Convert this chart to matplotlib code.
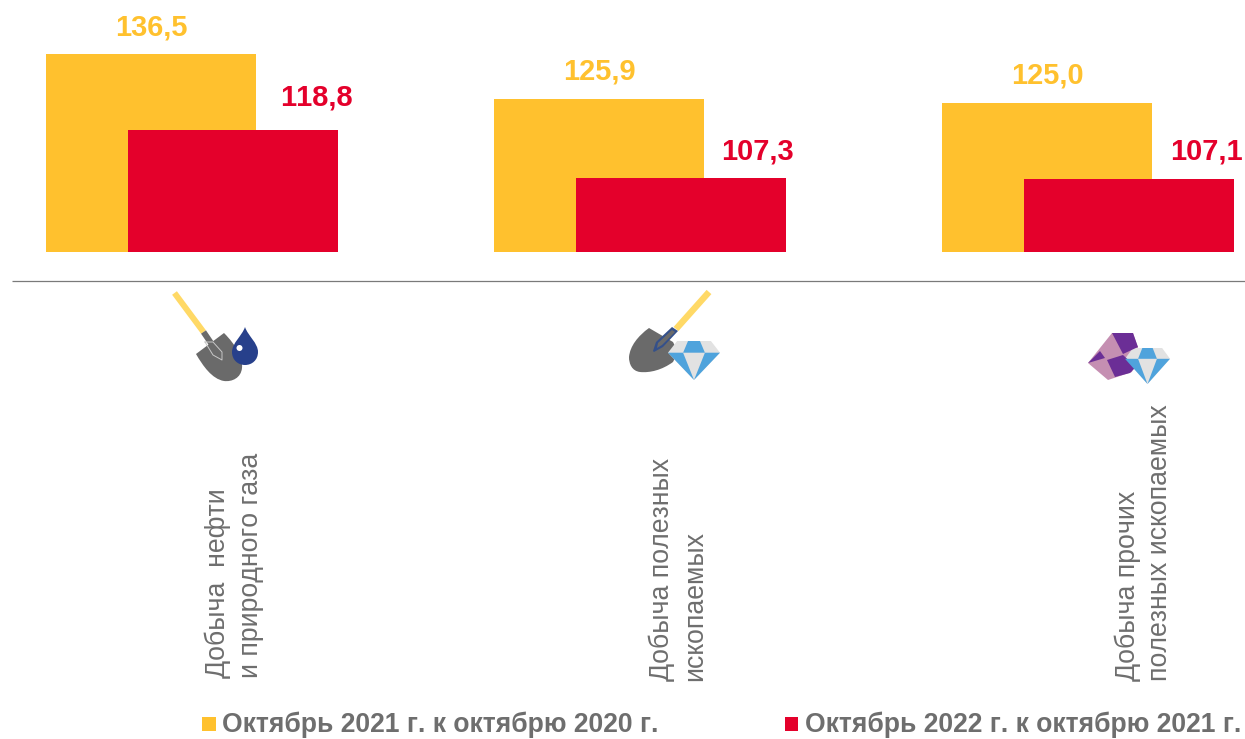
import matplotlib
matplotlib.use("Agg")
import matplotlib.pyplot as plt
from matplotlib.patches import Polygon, Circle, PathPatch
from matplotlib.path import Path

categories = ["Добыча  нефти\nи природного газа", "Добыча полезных\nископаемых", "Добыча прочих\nполезных ископаемых"]
series_2021 = [136.5, 125.9, 125.0]
series_2022 = [118.8, 107.3, 107.1]
labels_2021 = ["136,5", "125,9", "125,0"]
labels_2022 = ["118,8", "107,3", "107,1"]
legend_names = ["Октябрь 2021 г. к октябрю 2020 г.", "Октябрь 2022 г. к октябрю 2021 г."]

W, H = 1245, 739
YEL, RED, GREY = "#FFC12E", "#E4002B", "#6E6E6E"
plt.rcParams["font.family"] = ["Liberation Sans", "DejaVu Sans"]
plt.rcParams["text.kerning_factor"] = 6
fig = plt.figure(figsize=(W / 100, H / 100), dpi=100, facecolor="white")

ax = fig.add_axes([0, 1 - 252 / H, 1, 252 / H])
ax.set_xlim(-192 / 448, (W - 192) / 448)
ax.set_ylim(90, 90 + 252 / 4.25)
ax.axis("off")
xs = range(3)
bw, off = 210 / 448, 41 / 448
ax.bar([x - off for x in xs], series_2021, bw, color=YEL, zorder=2)
ax.bar([x + off for x in xs], series_2022, bw, color=RED, zorder=3)

# overlay in pixel coordinates for value labels, rule, icons, rotated labels and legend
ov = fig.add_axes([0, 0, 1, 1], facecolor="none")
ov.set_xlim(0, W); ov.set_ylim(H, 0); ov.axis("off")
for s, px, py in zip(labels_2021, (151.5, 599.5, 1047.5), (28, 72, 76)):
    ov.text(px, py, s, color=YEL, ha="center", va="center", fontsize=20.9, fontweight="bold")
for s, px, py in zip(labels_2022, (316.5, 757, 1206), (97, 151, 151)):
    ov.text(px, py, s, color=RED, ha="center", va="center", fontsize=20.9, fontweight="bold")
ov.plot([12, W], [281, 281], color="#7A7A7A", lw=0.9, solid_capstyle="butt")

def poly(pts, c, z=5):
    ov.add_patch(Polygon(pts, closed=True, fc=c, ec="none", zorder=z))

def curve(start, segs, c, z=5):
    verts, codes = [start], [Path.MOVETO]
    for seg in segs:
        verts += seg
        codes += [Path.LINETO] if len(seg) == 1 else [Path.CURVE4] * 3
    verts.append(start); codes.append(Path.CLOSEPOLY)
    ov.add_patch(PathPatch(Path(verts, codes), fc=c, ec="none", zorder=z))

def diamond(cx, top, w, h):
    t = top; g = t + h * 0.3
    poly([(cx - w * .65, t), (cx + w * .65, t), (cx + w, g), (cx, t + h), (cx - w, g)], "#E2E2E2")
    poly([(cx - w * .23, t), (cx + w * .23, t), (cx + w * .42, g), (cx - w * .42, g)], "#4FA3DC", 6)
    poly([(cx - w, g), (cx - w * .42, g), (cx, t + h)], "#4FA3DC", 6)
    poly([(cx + w, g), (cx + w * .42, g), (cx, t + h)], "#4FA3DC", 6)

# icon 1: shovel and droplet
ov.plot([174.5, 203.5], [293, 332], color="#FFD966", lw=4.3, solid_capstyle="butt", zorder=5)
ov.plot([203.5, 213], [332, 346], color="#6A6A6A", lw=4.3, solid_capstyle="butt", zorder=5)
curve((196, 354), [[(224, 333)], [(236, 345), (243, 358), (242, 368)], [(241, 378), (232, 382), (224, 381)],
                   [(212, 379), (203, 366), (196, 354)]], "#6A6A6A")
ov.plot([205, 213, 222, 222, 213, 205], [342, 342, 352, 360, 355, 342], color="#C8C8C8", lw=0.7, zorder=6)
curve((245, 327), [[(248, 336), (258, 343), (258, 352)], [(258, 360), (252, 365), (245, 365)],
                   [(238, 365), (232, 360), (232, 352)], [(232, 343), (242, 336), (245, 327)]], "#27408B")
ov.add_patch(Circle((239.5, 348), 3, fc="white", ec="none", zorder=6))

# icon 2: shovel and diamond
ov.plot([709, 676], [292, 329], color="#FFD966", lw=4.6, solid_capstyle="butt", zorder=5)
curve((649, 328), [[(673, 342)], [(678, 352)], [(673, 362)], [(662, 370), (650, 373), (640, 372)],
                   [(632, 371), (629, 364), (629, 357)], [(630, 346), (638, 336), (649, 328)]], "#6A6A6A")
poly([(672, 327), (678, 331), (663, 347), (654, 352), (653, 351), (656, 342)], "#34508A", 6)
poly([(672, 330), (675, 332), (662, 345), (657, 348), (658, 343)], "#6A6A6A", 7)
diamond(694, 341, 26, 39)

# icon 3: rock and diamond
poly([(1112, 333), (1133, 333), (1138, 348), (1132, 372), (1108, 380), (1088, 363)], "#C58FB2")
poly([(1112, 333), (1133, 333), (1138, 347), (1123, 354)], "#6B2E96", 6)
poly([(1088, 363), (1100, 351), (1105, 358)], "#6B2E96", 6)
poly([(1107, 360), (1123, 355), (1136, 367), (1130, 373), (1115, 377)], "#6B2E96", 6)
diamond(1147.5, 348, 22.5, 36)

# rotated category labels
label_x = [(218, 251), (662, 695), (1128, 1160)]
label_bottom = [678, 681, 681]
for cat, (x1, x2), b in zip(categories, label_x, label_bottom):
    l1, l2 = cat.split("\n")
    for lx, t in zip((x1, x2), (l1, l2)):
        ov.text(lx, b, t, rotation=90, ha="center", va="bottom", fontsize=19.2, color=GREY)

# legend
poly([(202, 717), (216, 717), (216, 731), (202, 731)], YEL)
poly([(785, 717), (798, 717), (798, 731), (785, 731)], RED)
ov.text(222, 725, legend_names[0], ha="left", va="center", fontsize=19.1, fontweight="bold", color=GREY)
ov.text(805, 725, legend_names[1], ha="left", va="center", fontsize=19.1, fontweight="bold", color=GREY)

fig.savefig("out.png", dpi=100, facecolor="white")
